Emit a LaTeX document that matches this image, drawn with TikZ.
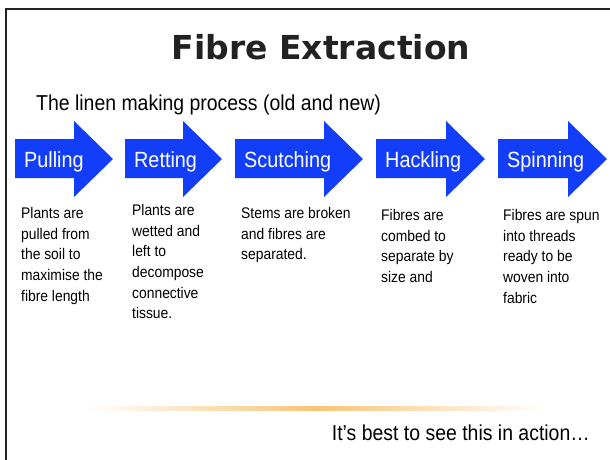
\documentclass[tikz,border=0pt]{standalone}
\usepackage{fontspec}
\setmainfont[FakeStretch=0.9]{Liberation Sans}
\newfontfamily\titlefont{DejaVu Sans}
\usepackage{tikz}
\usepackage{xcolor}
\usetikzlibrary{positioning}
\definecolor{stepblue}{RGB}{18,62,250}
\definecolor{framegray}{RGB}{34,34,34}
\definecolor{glow}{RGB}{247,196,120}

\begin{document}
\begin{tikzpicture}[x=1pt,y=-1pt,
            steplabel/.style={anchor=base west,inner sep=0pt,text=white,font=\fontsize{22}{24}\selectfont},
            stepnote/.style={anchor=north west,inner sep=0pt,align=left,font=\fontsize{15.4}{20.7}\selectfont},
            slidetext/.style={inner sep=0pt,font=\fontsize{21.6}{24}\selectfont}]

        \useasboundingbox (0,0) rectangle (610,459);
        \fill[white] (0,0) rectangle (610,459);

        % slide frame
        \draw[framegray,line width=2.4pt] (6,460) -- (6,9) -- (611,9);

        \node[anchor=base,inner sep=0pt,text=framegray,font=\titlefont\bfseries\fontsize{33}{36}\selectfont] (title) at (321,59) {Fibre Extraction};
        \node[slidetext,anchor=base west] (intro) at (36,110) {The linen making process (old and new)};

        % process arrows
        \foreach \x/\len/\name [count=\i] in {15/98/Pulling,125/97/Retting,235/128/Scutching,376/109/Hackling,498/109/Spinning}{
            \fill[stepblue] (\x,139) -- (\x+\len-39,139) -- (\x+\len-39,121) -- (\x+\len,159)
                -- (\x+\len-39,197) -- (\x+\len-39,178) -- (\x,178) -- cycle;
            \node[steplabel] (step\i) at (\x+9,167) {\name};
        }

        \node[stepnote] (note1) at (21,207) {Plants are\\pulled from\\the soil to\\maximise the\\fibre length};
        \node[stepnote] (note2) at (132,204) {Plants are\\wetted and\\left to\\decompose\\connective\\tissue.};
        \node[stepnote] (note3) at (241,207) {Stems are broken\\and fibres are\\separated.};
        \node[stepnote] (note4) at (381,209) {Fibres are\\combed to\\separate by\\size and};
        \node[stepnote] (note5) at (503,209) {Fibres are spun\\into threads\\ready to be\\woven into\\fabric};

        % fading rule
        \shade[left color=white,right color=white,middle color=glow] (86,406) rectangle (547,410);

        \node[slidetext,anchor=base east] (outro) at (590,440) {It’s best to see this in action…};

    \end{tikzpicture}
\end{document}
